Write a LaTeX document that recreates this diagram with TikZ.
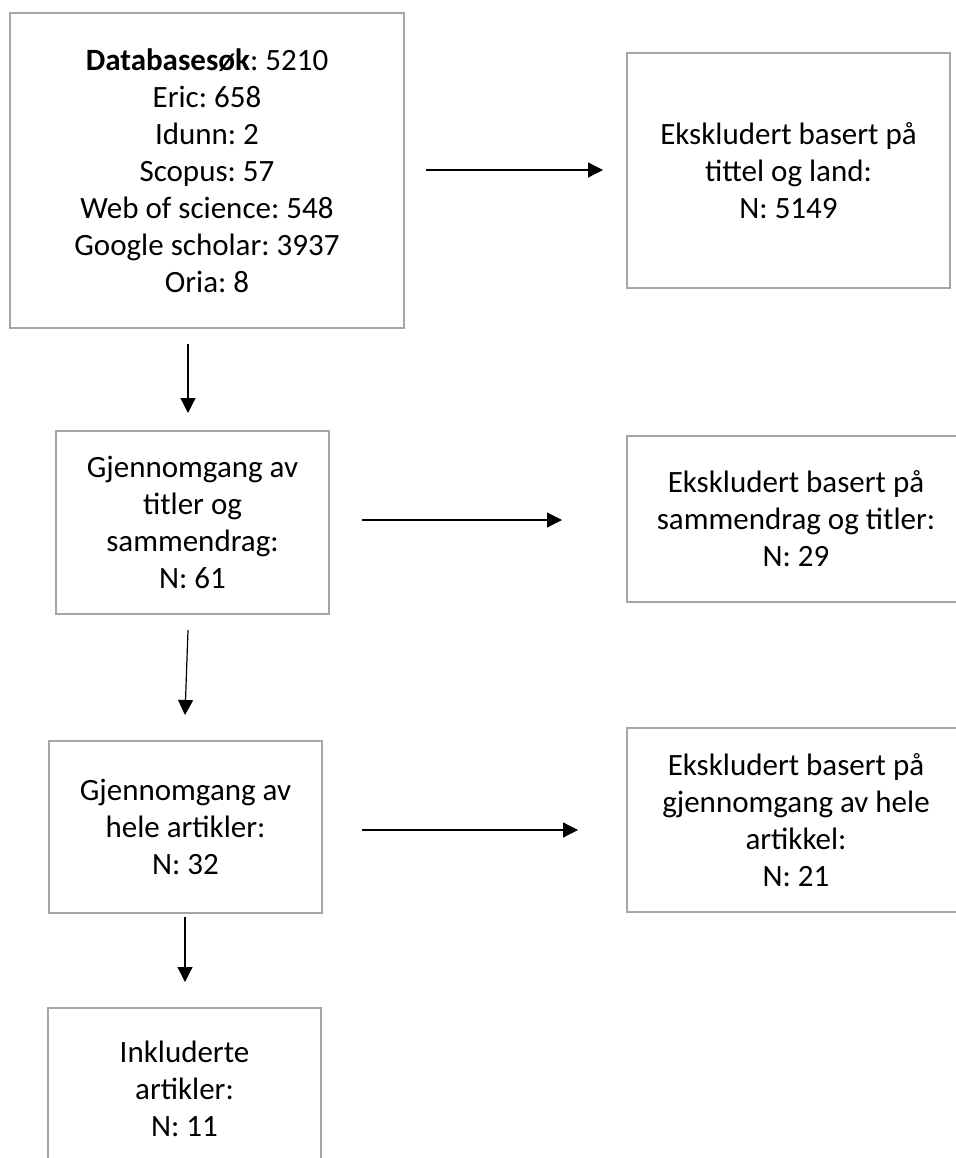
\documentclass[tikz,border=0pt]{standalone}
\usepackage{fontspec}
\setmainfont{Carlito}
\frenchspacing
\usetikzlibrary{arrows.meta}
\definecolor{boxgray}{HTML}{A6A6A6}
\tikzset{
  txt/.style={align=center, inner sep=0pt, font=\fontsize{31}{37}\selectfont, text=black},
  box/.style={txt, draw=boxgray, line width=1.7pt, rectangle},
  arr/.style={draw=black, line width=1.2pt, -{Triangle[length=15pt,width=15pt]}}
}
\begin{document}
\begin{tikzpicture}[x=1pt,y=-1pt]
\frenchspacing
\useasboundingbox (0,0) rectangle (955,1158);
\fill[white] (0,0) rectangle (955,1158);
% boxes
\node[box, minimum width=394pt, minimum height=315pt] (b1) at (207,170.5)
  {\textbf{Databasesøk}: 5210\\Eric: 658\\Idunn: 2\\Scopus: 57\\Web of science: 548\\Google scholar: 3937\\Oria: 8};
\node[box, minimum width=323pt, minimum height=235pt] (b2) at (788.5,170.5)
  {Ekskludert basert på\\tittel og land:\\N: 5149};
\node[box, minimum width=273pt, minimum height=183pt] (b3) at (192.5,522.5)
  {Gjennomgang av\\titler og\\sammendrag:\\N: 61};
\node[box, minimum width=338pt, minimum height=166pt] (b4) at (796,519)
  {Ekskludert basert på\\sammendrag og titler:\\N: 29};
\node[box, minimum width=273pt, minimum height=172pt] (b5) at (185.5,827)
  {Gjennomgang av\\hele artikler:\\N: 32};
\node[box, minimum width=338pt, minimum height=184pt] (b6) at (796,820)
  {Ekskludert basert på\\gjennomgang av hele\\artikkel:\\N: 21};
\node[box, minimum width=273pt, minimum height=162pt] (b7) at (184.5,1089)
  {Inkluderte\\artikler:\\N: 11};
% arrow end points
\coordinate (a1s) at (426,170);  \coordinate (a1e) at (603,170);
\coordinate (a2s) at (362,520);  \coordinate (a2e) at (562,520);
\coordinate (a3s) at (362,830);  \coordinate (a3e) at (578,830);
\coordinate (d1s) at (188,344);  \coordinate (d1e) at (188,413);
\coordinate (d2s) at (188,630);  \coordinate (d2e) at (185,715);
\coordinate (d3s) at (185,917);  \coordinate (d3e) at (185,982);
\draw[arr] (a1s) -- (a1e);
\draw[arr] (a2s) -- (a2e);
\draw[arr] (a3s) -- (a3e);
\draw[arr] (d1s) -- (d1e);
\draw[arr] (d2s) -- (d2e);
\draw[arr] (d3s) -- (d3e);
\end{tikzpicture}
\end{document}
